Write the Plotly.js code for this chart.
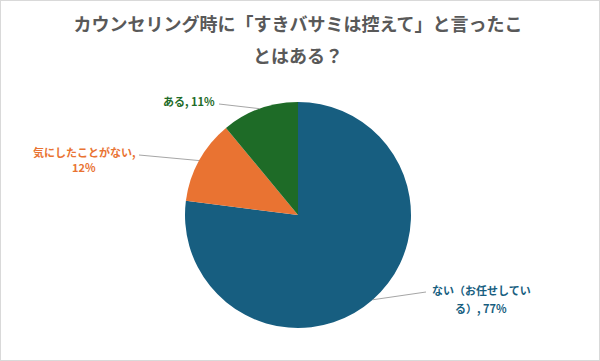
<!DOCTYPE html>
<html><head><meta charset="utf-8">
<script src="https://cdn.plot.ly/plotly-3.0.1.min.js"></script>
<style>html,body{margin:0;padding:0;background:#fff}#chart{width:598px;height:359px;border:1px solid #d9d9d9}</style>
</head><body><div id="chart"></div>
<script>
const labels = ["ない（お任せしている）", "気にしたことがない", "ある"];
const values = [77, 12, 11];
const colors = ["#175e80", "#e97332", "#1e6b27"];
const labelLines = [["ない（お任せしてい", "る）, 77%"], ["気にしたことがない,", "12%"], ["ある, 11%"]];
const titleLines = ["カウンセリング時に「すきバサミは控えて」と言ったこ", "とはある？"];

const W = 598, H = 359;
const cx = 297, cy = 214, R = 113;
const labelPos = [
  {tx: 480, ty: [289, 307], xa: "center", lx: 425, ly: 291},
  {tx: 83, ty: [151, 166], xa: "center", lx: 138, ly: 154},
  {tx: 216, ty: [100], xa: "right", lx: 218, ly: 103}
];
const total = values.reduce((a, b) => a + b, 0);
let cum = 0;
const shapes = [], annotations = [];
values.forEach((v, i) => {
  const mid = (cum + v / 2) / total * 2 * Math.PI;
  cum += v;
  const px = cx + R * Math.sin(mid), py = cy - R * Math.cos(mid);
  const p = labelPos[i];
  shapes.push({type: "line", xref: "paper", yref: "paper",
    x0: px / W, y0: 1 - py / H, x1: p.lx / W, y1: 1 - p.ly / H,
    line: {color: "#a6a6a6", width: 1}});
  labelLines[i].forEach((t, j) => {
    annotations.push({xref: "paper", yref: "paper", x: p.tx / W, y: 1 - p.ty[j] / H,
      xanchor: p.xa, yanchor: "middle", showarrow: false,
      text: "<b>" + t + "</b>",
      font: {family: "Noto Sans CJK JP", size: 11, color: colors[i]}});
  });
});
annotations.push({xref: "paper", yref: "paper", x: 297 / W, y: 1 - 54 / H,
  xanchor: "center", yanchor: "middle", showarrow: false,
  text: "<b>" + titleLines[1] + "</b>",
  font: {family: "Noto Sans CJK JP", size: 18, color: "#595959"}});

const data = [{
  type: "pie", labels: labels, values: values, sort: false, direction: "clockwise",
  rotation: 0, marker: {colors: colors, line: {width: 0}}, textinfo: "none",
  hoverinfo: "none", showlegend: false,
  domain: {x: [(cx - R) / W, (cx + R) / W], y: [1 - (cy + R) / H, 1 - (cy - R) / H]}
}];
const layout = {
  width: W, height: H, margin: {l: 0, r: 0, t: 0, b: 0},
  paper_bgcolor: "#fff",
  title: {text: "<b>" + titleLines[0] + "</b>",
    x: 297 / W, xanchor: "center", y: 1 - 24 / H, yanchor: "middle",
    font: {family: "Noto Sans CJK JP", size: 18, color: "#595959"}},
  shapes: shapes, annotations: annotations
};
Plotly.newPlot("chart", data, layout, {displayModeBar: false, staticPlot: true});
</script></body></html>
